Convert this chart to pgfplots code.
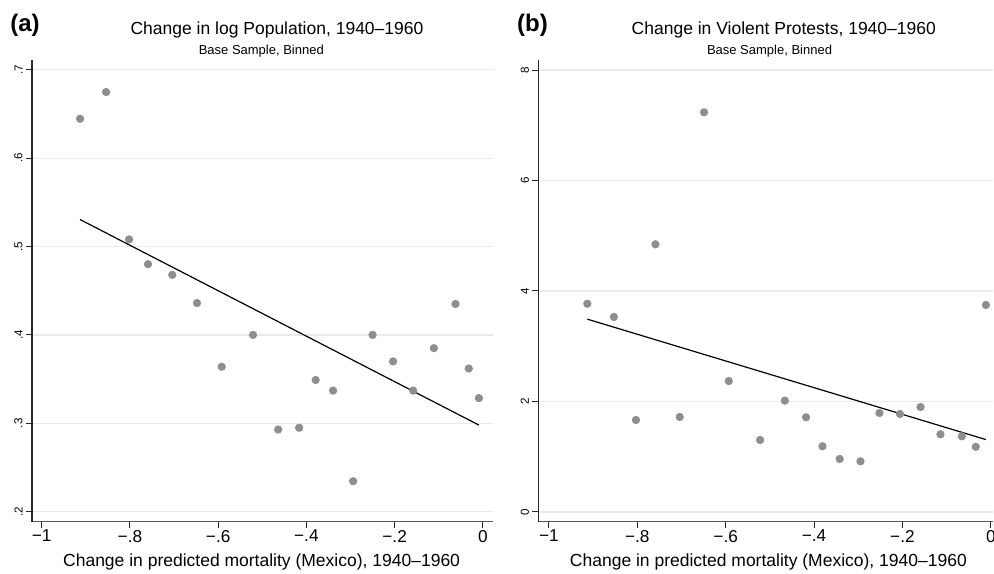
\documentclass[border=0pt]{standalone}
\usepackage{fontspec}
\setmainfont{Liberation Sans}
\usepackage{pgfplots}
\pgfplotsset{compat=1.18}
\definecolor{dotGrey}{HTML}{8E8E8E}
\definecolor{gridGrey}{HTML}{EAEAEA}
\definecolor{axisGrey}{HTML}{5A5A5A}

% shared look of the two Stata-style panels
\pgfplotsset{statapanel/.style={
  scale only axis, anchor=south west,
  axis x line*=bottom, axis y line*=left,
  axis line style={-, line width=0.6pt},
  x axis line style={axisGrey},
  y axis line style={black!85},
  tick align=outside, major tick length=3pt,
  tick style={black!85, line width=0.5pt},
  ymajorgrids, grid style={gridGrey, line width=0.6pt},
  xtick={-1,-0.8,-0.6,-0.4,-0.2,0},
  xticklabels={−1,−.8,−.6,−.4,−.2,0},
  xticklabel style={font=\fontsize{8.6}{10}\selectfont, inner sep=1pt},
  yticklabel style={font=\fontsize{5.8}{7}\selectfont, rotate=90, anchor=south, inner sep=1.5pt},
  dots/.style={only marks, mark=*, mark size=1.85pt, color=dotGrey},
  fit/.style={black, line width=0.6pt, no marks},
}}

\begin{document}
\begin{tikzpicture}
\useasboundingbox (0,0) rectangle (497pt,286.5pt);

% ---------- panel (a)
\begin{axis}[statapanel,
  at={(16pt,25.65pt)}, width=230.5pt, height=230.85pt,
  xmin=-1.022, xmax=0.023, ymin=0.1887, ymax=0.711,
  ytick={0.2,0.3,0.4,0.5,0.6,0.7},
  yticklabels={.2,.3,.4,.5,.6,.7},
]
\addplot[dots] coordinates {
  (-0.913,0.6445) (-0.854,0.6747) (-0.802,0.508) (-0.759,0.480)
  (-0.704,0.468) (-0.648,0.436) (-0.592,0.364) (-0.521,0.400)
  (-0.464,0.293) (-0.4165,0.295) (-0.379,0.349) (-0.3395,0.337)
  (-0.294,0.2345) (-0.250,0.400) (-0.2036,0.370) (-0.158,0.337)
  (-0.111,0.385) (-0.062,0.435) (-0.032,0.362) (-0.009,0.3285)
};
\addplot[fit] coordinates {(-0.913,0.5305) (-0.009,0.298)};
\end{axis}

% ---------- panel (b)
\begin{axis}[statapanel,
  at={(269.15pt,25.65pt)}, width=227.35pt, height=230.85pt,
  xmin=-1.024, xmax=0.005, ymin=-0.176, ymax=8.181,
  ytick={0,2,4,6,8},
  yticklabels={0,2,4,6,8},
]
\addplot[dots] coordinates {
  (-0.913,3.77) (-0.853,3.53) (-0.803,1.665) (-0.759,4.845)
  (-0.704,1.72) (-0.649,7.234) (-0.593,2.37) (-0.522,1.303)
  (-0.466,2.015) (-0.418,1.714) (-0.381,1.189) (-0.342,0.96)
  (-0.295,0.917) (-0.252,1.792) (-0.2056,1.774) (-0.159,1.90)
  (-0.114,1.406) (-0.0655,1.37) (-0.034,1.18) (-0.011,3.747)
};
\addplot[fit] coordinates {(-0.913,3.49) (-0.011,1.31)};
\end{axis}

% titles, subtitles, panel letters, x labels
\node[anchor=base west, font=\fontsize{12}{14}\selectfont\bfseries, inner sep=0pt] at (5pt,270.5pt) {(a)};
\node[anchor=base west, font=\fontsize{12}{14}\selectfont\bfseries, inner sep=0pt] at (258.35pt,270.5pt) {(b)};
\node[anchor=base, font=\fontsize{8.75}{10}\selectfont, inner sep=0pt] at (138.5pt,269pt) {Change in log Population, 1940–1960};
\node[anchor=base, font=\fontsize{8.75}{10}\selectfont, inner sep=0pt] at (391.9pt,269pt) {Change in Violent Protests, 1940–1960};
\node[anchor=base, font=\fontsize{6.5}{8}\selectfont, inner sep=0pt] at (130.65pt,259pt) {Base Sample, Binned};
\node[anchor=base, font=\fontsize{6.5}{8}\selectfont, inner sep=0pt] at (384.75pt,259pt) {Base Sample, Binned};
\node[anchor=base, font=\fontsize{8.75}{10}\selectfont, inner sep=0pt] at (130.8pt,3.15pt) {Change in predicted mortality (Mexico), 1940–1960};
\node[anchor=base, font=\fontsize{8.75}{10}\selectfont, inner sep=0pt] at (384.2pt,3.15pt) {Change in predicted mortality (Mexico), 1940–1960};
\end{tikzpicture}
\end{document}
